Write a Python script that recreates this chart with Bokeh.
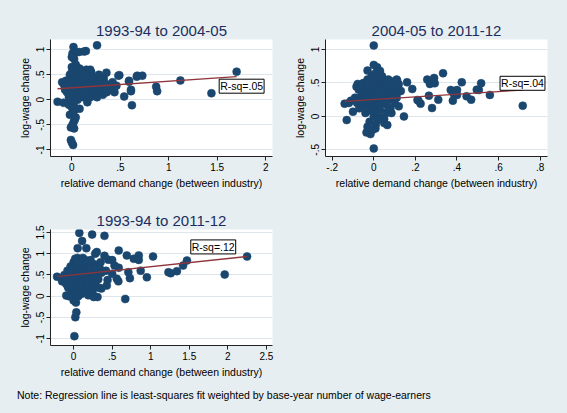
from bokeh.plotting import figure
from bokeh.layouts import column, row
from bokeh.models import FixedTicker, Label, Div, ColumnDataSource
from bokeh.embed import file_html
from bokeh.resources import INLINE

BG = "#e6eef1"
NAVY = "#1a476f"
MAROON = "#90353b"
FONT = "Liberation Sans"

titles = ["1993-94 to 2004-05", "2004-05 to 2011-12", "1993-94 to 2011-12"]
xlabel = "relative demand change (between industry)"
ylabel = "log-wage change"
note = "Note: Regression line is least-squares fit weighted by base-year number of wage-earners"

# ---- panel 1 data ----
p1_x = [0.017, 0.26, 0.007, 0.04, 0.075, 0.126, 0.145, 0.024, 0.0,
        -0.147, -0.085, -0.01, 0.013, 0.0,
        0.024, 0.007, 0.02, -0.01, 0.03, -0.02, 0.01, 0.04, 0.0, 0.03, -0.03, 0.08, 0.02,
        0.62, 0.49, 0.675, 0.727, 0.357, 0.87, 0.88, 0.61, 0.59, 0.54, 1.12, 1.70, 1.44, 0.67, 0.48, 0.59, 0.61,
        -0.1, -0.08, -0.06, -0.04, -0.05, -0.03, -0.02, -0.01, 0.0, 0.0, 0.01, 0.01, 0.02, 0.02, 0.03, 0.03,
        0.04, 0.04, 0.05, 0.05, 0.06, 0.06, 0.07, 0.07, 0.08, 0.08, 0.09, 0.10, 0.10, 0.11, 0.12, 0.12,
        0.13, 0.14, 0.15, 0.15, 0.16, 0.17, 0.18, 0.19, 0.20, 0.20, 0.22, 0.23, 0.24, 0.25, 0.26, 0.27,
        0.28, 0.30, 0.31, 0.32, 0.33, 0.35, 0.36, 0.38, 0.40, 0.42, 0.44, 0.46,
        -0.07, -0.02, 0.0, 0.01, 0.02, 0.03, 0.05, 0.06, 0.09, 0.11, 0.13, 0.14, 0.16, 0.18, 0.21, 0.23,
        0.04, 0.0, -0.01, 0.02, 0.08, 0.1, 0.19, 0.29, 0.17, 0.12,
        -0.04, -0.01, 0.01, 0.03, 0.05, 0.07, 0.09, 0.11, 0.13, 0.15, 0.17, 0.19, 0.21, 0.24, 0.27,
        -0.03, 0.0, 0.02, 0.04, 0.06, 0.08, 0.10, 0.12, 0.14, 0.16, 0.18, 0.22, 0.25, 0.30, 0.34]
p1_y = [1.05, 1.085, 0.92, 0.94, 0.95, 0.96, 0.97, 0.81, 0.85,
        -0.04, -0.06, -0.80, -0.90, -0.85,
        -0.57, -0.50, -0.44, -0.55, -0.40, -0.30, -0.25, -0.35, -0.15, -0.20, -0.10, -0.18, -0.10,
        -0.11, 0.49, 0.48, 0.48, 0.54, 0.26, 0.17, 0.17, 0.36, 0.065, 0.385, 0.56, 0.13, 0.46, 0.48, 0.38, 0.20,
        0.35, 0.30, 0.38, 0.25, 0.15, 0.40, 0.20, 0.30, 0.55, 0.10, 0.45, 0.05, 0.62, 0.35, 0.25, 0.60,
        0.50, 0.15, 0.40, 0.65, 0.30, 0.00, 0.55, 0.20, 0.45, 0.62, 0.10, 0.35, 0.58, 0.25, 0.50, 0.05,
        0.40, 0.15, 0.30, 0.60, -0.05, 0.45, 0.20, 0.35, 0.10, 0.55, 0.30, 0.45, 0.18, 0.40, 0.05, 0.28,
        0.50, 0.20, 0.35, 0.10, 0.42, 0.25, 0.15, 0.30, 0.20, 0.35, 0.15, 0.28,
        0.2, 0.5, 0.38, 0.22, 0.0, 0.48, 0.08, 0.42, 0.28, 0.45, 0.55, 0.32, 0.38, 0.52, 0.25, 0.12,
        0.70, 0.65, 0.42, 0.15, 0.35, 0.18, 0.6, 0.38, 0.1, 0.3,
        0.28, 0.12, 0.52, 0.32, 0.22, 0.05, 0.48, 0.12, 0.22, 0.48, 0.25, 0.05, 0.40, 0.30, 0.15,
        0.05, 0.25, 0.42, 0.58, 0.50, 0.28, 0.45, 0.38, 0.52, 0.22, 0.32, 0.18, 0.22, 0.28, 0.32]

# ---- panel 2 data ----
p2_x = [0.0, 0.0, -0.14, -0.13, -0.11, -0.10, -0.083, -0.077, -0.072, 0.145, 0.112, 0.115, 0.16, 0.185,
        0.21, 0.225, 0.257, 0.27, 0.29, 0.293, 0.265, 0.28, 0.31, 0.333, 0.37, 0.385, 0.38, 0.40, 0.40,
        0.423, 0.446, 0.468, 0.505, 0.495, 0.516, 0.558, 0.716, 0.215,
        -0.03, 0.0, 0.016, -0.03, -0.016, 0.008, 0.05, 0.065, -0.035,
        -0.06, -0.05, -0.05, -0.04, -0.04, -0.03, -0.03, -0.02, -0.02, -0.01, -0.01, 0.0, 0.0, 0.0,
        0.01, 0.01, 0.01, 0.02, 0.02, 0.02, 0.03, 0.03, 0.04, 0.04, 0.05, 0.05, 0.06, 0.06, 0.07, 0.07,
        0.08, 0.08, 0.09, 0.09, 0.10, 0.10, 0.11, 0.12, 0.12, -0.08, -0.09, -0.07, -0.12, -0.06, 0.04,
        0.0, 0.03, -0.02, 0.0, 0.06, 0.015, 0.085, 0.05, 0.11, 0.03, -0.01, 0.07, 0.01, -0.005, 0.02, -0.045,
        -0.04, -0.02, 0.0, 0.02, 0.04, 0.06, 0.08, -0.03, -0.01, 0.01, 0.03, 0.05, 0.07, 0.09,
        -0.05, -0.02, 0.0, 0.02, 0.04, 0.06, 0.10, 0.13, -0.01, 0.03]
p2_y = [1.06, -0.48, 0.19, -0.055, 0.235, 0.07, 0.445, 0.485, 0.40, 0.0, 0.535, 0.36, 0.51, 0.41,
        0.245, 0.19, 0.55, 0.485, 0.575, 0.495, 0.31, 0.125, 0.25, 0.645, 0.395, 0.335, 0.235, 0.395, 0.32,
        0.51, 0.30, 0.25, 0.395, 0.40, 0.495, 0.32, 0.16, 0.235,
        0.685, 0.77, 0.735, -0.155, -0.265, -0.18, -0.10, -0.13, -0.24,
        0.30, 0.15, 0.50, 0.35, 0.05, 0.25, 0.55, 0.10, 0.42, 0.60, 0.20, 0.30, 0.00, 0.48,
        0.65, 0.15, 0.38, -0.05, 0.25, 0.55, 0.45, 0.10, 0.30, 0.60, 0.20, 0.50, 0.05, 0.38, 0.55, 0.25,
        0.45, 0.12, 0.32, 0.52, 0.20, 0.40, 0.28, 0.48, 0.15, 0.20, 0.28, 0.12, 0.20, 0.45, -0.02,
        0.62, 0.68, -0.08, 0.18, 0.28, 0.05, 0.05, -0.04, 0.55, 0.35, 0.35, 0.40, -0.12, -0.2, 0.22, 0.25,
        0.40, 0.32, 0.42, 0.35, 0.42, 0.18, 0.30, 0.20, 0.08, 0.28, 0.18, 0.35, 0.10, 0.42,
        0.22, 0.50, 0.55, 0.08, 0.52, 0.45, 0.30, 0.38, 0.25, 0.58]

# ---- panel 3 data ----
p3_x = [0.074, 0.24, 0.40, 0.11, 0.052, 0.165, 0.585, 0.69, 0.845, 1.03, 0.30, 0.28, -0.215, -0.095,
        0.022, 0.035, 0.01, 0.67, 1.96, 2.25, 1.47, 1.42, 1.34, 1.23, 1.26, 0.95, 0.87, 0.73, 0.71, 0.78,
        0.845, 0.56, 0.58, 0.43, 0.27, 0.31, 0.53, 0.45, 0.50, 0.585, 0.50, 0.44, 0.36, 0.22, 0.19, 0.26,
        0.40, 0.35,
        -0.15, -0.12, -0.10, -0.08, -0.07, -0.05, -0.04, -0.03, -0.02, -0.01, 0.0, 0.0, 0.01, 0.02, 0.02,
        0.03, 0.04, 0.05, 0.05, 0.06, 0.07, 0.08, 0.08, 0.09, 0.10, 0.11, 0.12, 0.13, 0.14, 0.15, 0.16,
        0.17, 0.18, 0.19, 0.20, 0.21, 0.22, 0.23, 0.24, 0.25, 0.26, 0.27, 0.28, 0.30, 0.32, 0.34, 0.33,
        -0.06, 0.0, 0.03, 0.06, 0.1, 0.12, 0.03, 0.0, 0.07, 0.04, -0.02, 0.09, 0.15, 0.02, -0.09, 0.11,
        0.19, 0.06, 0.14,
        -0.11, -0.06, -0.03, 0.0, 0.02, 0.04, 0.06, 0.08, 0.10, 0.13, 0.16, 0.18, 0.21, 0.24,
        -0.08, -0.04, -0.01, 0.01, 0.05, 0.07, 0.09, 0.12, 0.14, 0.17, 0.20, 0.25, 0.29, 0.36, 0.42]
p3_y = [1.49, 1.45, 1.42, 1.3, 1.13, 1.13, 1.075, 0.96, 0.96, 0.935, 1.04, 1.0, 0.46, 0.015,
        -0.495, -0.38, -0.94, -0.065, 0.51, 0.935, 0.84, 0.72, 0.59, 0.565, 0.54, 0.445, 0.60, 0.425, 0.565, 0.88,
        0.855, 0.41, 0.35, 0.25, 0.0, -0.02, 0.72, 0.86, 0.85, 0.67, 0.53, 0.38, 0.18, 0.1, 0.02, -0.02,
        0.95, 0.80,
        0.35, 0.50, 0.30, 0.60, 0.20, 0.45, 0.70, 0.10, 0.55, 0.35, 0.80, 0.20, 0.60, 0.40, 0.05,
        0.75, 0.50, 0.25, 0.90, 0.65, 0.35, 0.10, 0.55, 0.80, 0.40, 0.20, 0.65, 0.50, 0.30, 0.85, 0.10,
        0.55, 0.40, 0.70, 0.25, 0.50, 0.85, 0.35, 0.60, 0.15, 0.45, 0.75, 0.30, 0.55, 0.40, 0.65, 0.20,
        0.0, -0.1, -0.15, 0.0, 0.05, 0.9, 0.3, 0.5, 0.75, 0.15, 0.25, 0.6, 0.45, 0.88, 0.42, 0.33,
        0.15, 0.45, 0.7,
        0.40, 0.55, 0.45, 0.65, 0.30, 0.70, 0.40, 0.65, 0.55, 0.35, 0.75, 0.30, 0.65, 0.45,
        0.25, 0.35, 0.62, 0.48, 0.58, 0.22, 0.48, 0.42, 0.58, 0.35, 0.62, 0.50, 0.48, 0.55, 0.60]

# weighted least-squares fit coefficients (intercept, slope) and R-squared texts
fit_intercept = [0.238, 0.253, 0.50]
fit_slope = [0.13, 0.197, 0.193]
rsq_text = ["R-sq=.05", "R-sq=.04", "R-sq=.12"]
rsq_x = [1.52, 0.607, 1.52]
rsq_y = [0.27, 0.495, 1.16]

# ticks
x_ticks = [[0, 0.5, 1, 1.5, 2], [-0.2, 0, 0.2, 0.4, 0.6, 0.8], [0, 0.5, 1, 1.5, 2, 2.5]]
x_tick_labels = [["0", ".5", "1", "1.5", "2"], ["-.2", "0", ".2", ".4", ".6", ".8"],
                 ["0", ".5", "1", "1.5", "2", "2.5"]]
y_ticks = [[-1, -0.5, 0, 0.5, 1], [-0.5, 0, 0.5, 1], [-1, -0.5, 0, 0.5, 1, 1.5]]
y_tick_labels = [["-1", "-.5", "0", ".5", "1"], ["-.5", "0", ".5", "1"],
                 ["-1", "-.5", "0", ".5", "1", "1.5"]]

x_ranges = [(-0.22, 2.07), (-0.232, 0.835), (-0.30, 2.58)]
y_ranges = [(-1.13, 1.2), (-0.6, 1.15), (-1.16, 1.57)]

xs = [p1_x, p2_x, p3_x]
ys = [p1_y, p2_y, p3_y]

# width, height, border left, right, top, bottom
sizes = [(288, 198, 50, 16, 39, 42), (279, 198, 37, 20, 39, 42), (288, 185, 50, 16, 31, 38)]


def make_panel(i):
    w, h, bl, br, bt, bb = sizes[i]
    p = figure(width=w, height=h, x_range=x_ranges[i], y_range=y_ranges[i],
               output_backend="svg", toolbar_location=None,
               min_border_left=bl, min_border_right=br, min_border_top=bt, min_border_bottom=bb)
    p.border_fill_color = BG
    p.background_fill_color = "white"
    p.outline_line_color = None
    p.title.text = titles[i]
    p.title.align = "center"
    p.title.text_font = FONT
    p.title.text_font_size = "15px"
    p.title.text_font_style = "normal"
    p.title.text_color = "#1c2e5e"
    p.title.standoff = 2

    p.xaxis.ticker = FixedTicker(ticks=x_ticks[i])
    p.xaxis.major_label_overrides = {t: l for t, l in zip(x_ticks[i], x_tick_labels[i])}
    p.yaxis.ticker = FixedTicker(ticks=y_ticks[i])
    p.yaxis.major_label_overrides = {t: l for t, l in zip(y_ticks[i], y_tick_labels[i])}
    p.yaxis.major_label_orientation = "vertical"
    p.xaxis.axis_label = xlabel
    p.yaxis.axis_label = ylabel
    for ax in (p.xaxis, p.yaxis):
        ax.axis_label_text_font = FONT
        ax.axis_label_text_font_size = "10.5px"
        ax.axis_label_text_font_style = "normal"
        ax.axis_label_text_color = "black"
        ax.major_label_text_font = FONT
        ax.major_label_text_font_size = "10px"
        ax.major_label_text_color = "black"
        ax.axis_line_color = "#222222"
        ax.major_tick_line_color = "#222222"
        ax.major_tick_out = 4
        ax.major_tick_in = 0
        ax.minor_tick_line_color = None
        ax.major_label_standoff = 2
        ax.axis_label_standoff = 3
    p.xgrid.grid_line_color = None
    p.ygrid.ticker = FixedTicker(ticks=y_ticks[i])
    p.ygrid.grid_line_color = "#dde6ec"
    p.ygrid.grid_line_width = 1

    src = ColumnDataSource(dict(x=xs[i], y=ys[i]))
    p.scatter("x", "y", source=src, size=8, fill_color=NAVY, line_color=NAVY, line_width=0.5)

    x0, x1 = min(xs[i]), max(xs[i])
    p.line([x0, x1], [fit_intercept[i] + fit_slope[i] * x0, fit_intercept[i] + fit_slope[i] * x1],
           line_color=MAROON, line_width=1.3)

    lab = Label(x=rsq_x[i], y=rsq_y[i], text=rsq_text[i], text_font=FONT, text_font_size="10.5px",
                text_baseline="middle", text_color="black", border_line_color="black",
                border_line_width=1, background_fill_color="white", padding=1)
    p.add_layout(lab)
    return p


f1 = make_panel(0)
f2 = make_panel(1)
f3 = make_panel(2)

div = Div(text=note, width=567, height=30,
          styles={"font-family": FONT, "font-size": "10.5px", "color": "black",
                  "padding-left": "12px", "padding-top": "0px", "background-color": BG,
                  "box-sizing": "border-box"})

layout = column(row(f1, f2, spacing=0), f3, div, spacing=0, styles={"background-color": BG})

html = file_html(layout, INLINE)
html = html.replace("<body>", '<body style="background-color:%s;">' % BG, 1)
open("out.html", "w").write(html)
